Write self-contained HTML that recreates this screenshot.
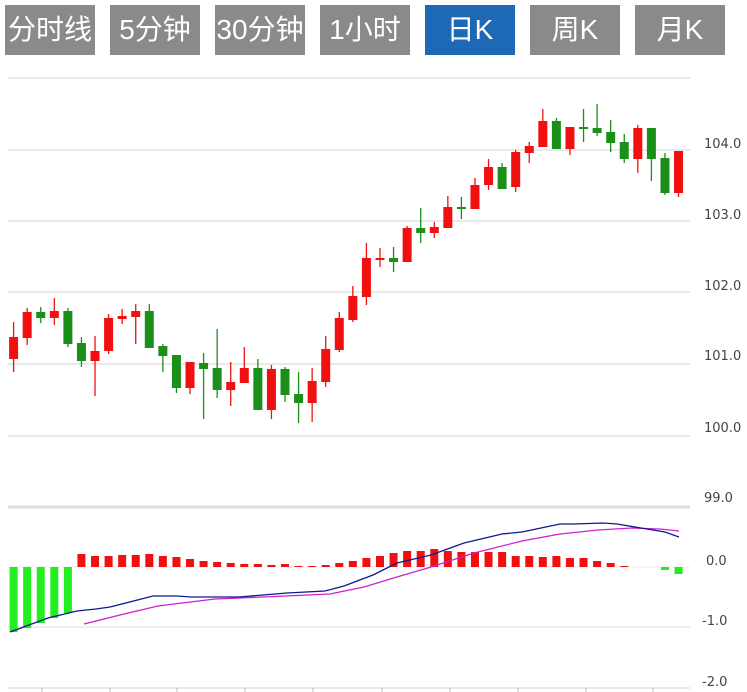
<!DOCTYPE html>
<html><head><meta charset="utf-8"><style>
body{margin:0;background:#fff;width:747px;height:692px;overflow:hidden;font-family:"Liberation Sans","Noto Sans CJK SC",sans-serif}
.b{position:absolute;top:5px;width:90px;height:50px;background:#8a8a8a;color:#fff;font-size:28px;line-height:50px;text-align:center;font-family:"Liberation Sans","Noto Sans CJK SC",sans-serif;white-space:nowrap}
.on{background:#1e69b5}
svg{position:absolute;left:0;top:0}
</style></head><body>
<div class="b" style="left:5px">分时线</div>
<div class="b" style="left:110px">5分钟</div>
<div class="b" style="left:215px">30分钟</div>
<div class="b" style="left:320px">1小时</div>
<div class="b on" style="left:425px">日K</div>
<div class="b" style="left:530px">周K</div>
<div class="b" style="left:635px">月K</div>
<svg id="s" width="747" height="692" xmlns="http://www.w3.org/2000/svg"></svg>
<script>
var s='';
function L(x1,y1,x2,y2,c,w){s+='<line x1="'+x1+'" y1="'+y1+'" x2="'+x2+'" y2="'+y2+'" stroke="'+c+'" stroke-width="'+w+'"/>';}
[78,150,221,292,364,436].forEach(function(y){L(8,y,690,y,'#dcdcdc',1.3);});
L(8,507,690,507,'#dcdcdc',3);
L(8,627,690,627,'#e2e2e2',1.3);
L(8,567,690,567,'#eeeeee',1);
L(8,688,690,688,'#dcdcdc',1.3);
[42,110,177,245,313,382,450,518,586,653].forEach(function(x){L(x,688,x,692,'#bbb',1);});
function T(x,y,t){s+='<text x="'+x+'" y="'+y+'" font-size="13" fill="#444" font-family="DejaVu Sans, Liberation Sans, sans-serif">'+t+'</text>';}
T(704,148,'104.0');T(704,219,'103.0');T(704,290,'102.0');T(704,360,'101.0');T(704,432,'100.0');T(704,502,'99.0');
T(706,565,'0.0');T(702,625,'-1.0');T(702,686,'-2.0');
var C=[[1,337,359,322,372],[1,312,338,308,345],[0,312,318,307,323],[1,311,318,298,325],[0,311,344,308,347],[0,343,361,337,367],[1,351,361,336,396],[1,318,351,314,354],[1,316,319,309,324],[1,311,317,304,344],[0,311,348,304,348],[0,346,356,344,372],[0,355,388,355,393],[1,362,388,362,394],[0,363,369,353,419],[0,368,390,329,398],[1,382,390,362,406],[1,368,383,347,383],[0,368,410,359,410],[1,369,410,365,419],[0,369,395,367,402],[0,394,403,372,423],[1,381,403,368,422],[1,349,382,336,387],[1,318,350,312,352],[1,296,320,286,322],[1,258,297,243,305],[1,258,259.5,248,267],[0,258,262,247,272],[1,228,262,226,262],[0,228,233,208,243],[1,227,233,222,238],[1,207,228,196,228],[0,207,209,197,219],[1,185,209,178,209],[1,167,185,159,190],[0,167,189,163,189],[1,152,187,150,192],[1,146,153,142,163],[1,121,147,109,147],[0,121,149,118,149],[1,127,149,127,155],[0,127,129,109,142],[0,128,133,104,136],[0,132,143,120,152],[0,142,159,134,163],[1,128,159,125,173],[0,128,159,128,181],[0,158,193,153,195],[1,151,193,151,197]];
C.forEach(function(c,i){var x=13.6+i*13.57;var col=c[0]?'#f01010':'#1a8f1a';
L(x,c[3],x,c[4],col,1.3);s+='<rect x="'+(x-4.5)+'" y="'+c[1]+'" width="9" height="'+Math.max(c[2]-c[1],2)+'" fill="'+col+'"/>';});
var G=[632,628,623,618,613];
G.forEach(function(b,i){var x=13.6+i*13.57;s+='<rect x="'+(x-4)+'" y="567" width="8" height="'+(b-567)+'" fill="#22ee22"/>';});
var R=[554,556,556,555,555,554,556,557,559,561,562,563,564,564,565,564,566,566,565,563,561,558,556,553,551,551,549,551,552,552,552,552,556,556,557,556,558,558,561,563,566];
R.forEach(function(t,i){var x=13.6+(i+5)*13.57;s+='<rect x="'+(x-4)+'" y="'+t+'" width="8" height="'+(567-t)+'" fill="#f01010"/>';});
[[48,570],[49,574]].forEach(function(g){var x=13.6+g[0]*13.57;s+='<rect x="'+(x-4)+'" y="567" width="8" height="'+(g[1]-567)+'" fill="#22ee22"/>';});
var D=[[10,632],[48,618],[77,611],[96,609],[110,607],[153,596],[177,596],[191,597],[239,597],[263,595],[287,593],[325,591],[344,586],[373,575],[397,563],[431,555],[464,543],[502,534],[522,532],[560,524],[574,524],[603,523],[617,524],[641,528],[665,532],[679,537]];
var E=[[84,624],[120,615],[158,606],[182,603],[215,599],[263,597],[330,594],[364,587],[397,577],[431,567],[474,553],[522,541],[560,534],[598,530],[632,528],[660,529],[679,531]];
s+='<polyline fill="none" stroke="#d020d0" stroke-width="1.3" points="'+E.join(' ')+'"/>';
s+='<polyline fill="none" stroke="#101890" stroke-width="1.3" points="'+D.join(' ')+'"/>';
document.getElementById('s').innerHTML=s;
</script>
</body></html>
